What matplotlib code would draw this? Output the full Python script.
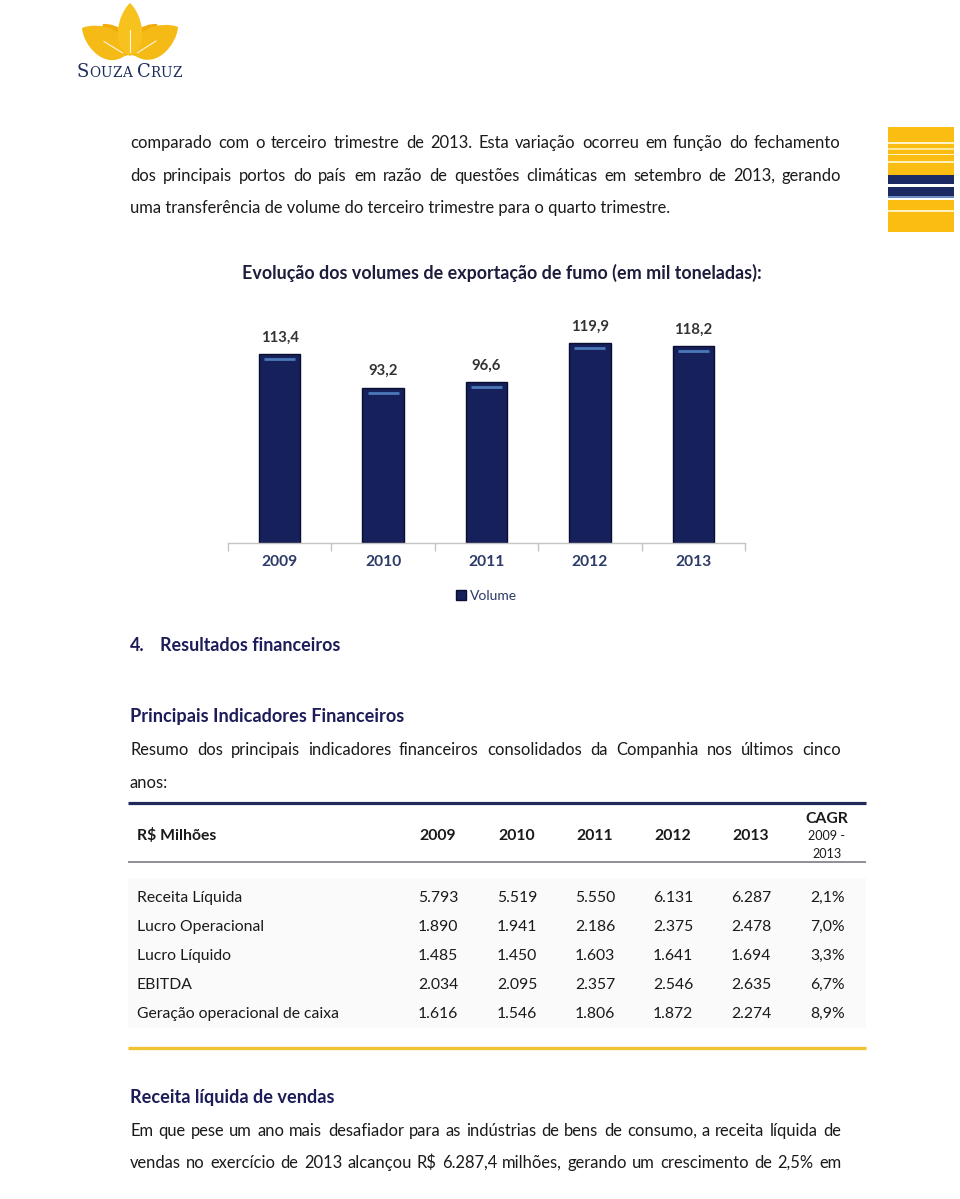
import matplotlib
matplotlib.use('Agg')
import matplotlib.pyplot as plt
from matplotlib.patches import Rectangle, PathPatch
from matplotlib.path import Path
import numpy as np

# ---------------- data ----------------
years = ['2009', '2010', '2011', '2012', '2013']
volumes = [113.4, 93.2, 96.6, 119.9, 118.2]
volume_labels = ['113,4', '93,2', '96,6', '119,9', '118,2']
legend_label = 'Volume'
chart_title = 'Evolução dos volumes de exportação de fumo (em mil toneladas):'

para1 = ['comparado com o terceiro trimestre de 2013. Esta variação ocorreu em função do fechamento',
         'dos principais portos do país em razão de questões climáticas em setembro de 2013, gerando',
         'uma transferência de volume do terceiro trimestre para o quarto trimestre.']
section_num = '4.'
section_title = 'Resultados financeiros'
sub_title = 'Principais Indicadores Financeiros'
para2 = ['Resumo dos principais indicadores financeiros consolidados da Companhia nos últimos cinco',
         'anos:']
table_header = ['R$ Milhões', '2009', '2010', '2011', '2012', '2013']
cagr_header = ['CAGR', '2009 -', '2013']
row_labels = ['Receita Líquida', 'Lucro Operacional', 'Lucro Líquido', 'EBITDA',
              'Geração operacional de caixa']
val_2009 = ['5.793', '1.890', '1.485', '2.034', '1.616']
val_2010 = ['5.519', '1.941', '1.450', '2.095', '1.546']
val_2011 = ['5.550', '2.186', '1.603', '2.357', '1.806']
val_2012 = ['6.131', '2.375', '1.641', '2.546', '1.872']
val_2013 = ['6.287', '2.478', '1.694', '2.635', '2.274']
cagr = ['2,1%', '7,0%', '3,3%', '6,7%', '8,9%']
sub_title2 = 'Receita líquida de vendas'
para3 = ['Em que pese um ano mais desafiador para as indústrias de bens de consumo, a receita líquida de',
         'vendas no exercício de 2013 alcançou R$ 6.287,4 milhões, gerando um crescimento de 2,5% em']
logo_words = [('S', 1), ('OUZA', 0), (' ', 0), ('C', 1), ('RUZ', 0)]

# ---------------- style ----------------
W, H = 960, 1199
FONT = ['Lato', 'DejaVu Sans']
BODY = '#1a1a1a'
NAVY = '#1c1c58'
BAR = '#16205a'

fig = plt.figure(figsize=(W / 100, H / 100), dpi=100)
ax0 = fig.add_axes([0, 0, 1, 1])
ax0.set_xlim(0, W)
ax0.set_ylim(H, 0)
ax0.axis('off')
renderer = fig.canvas.get_renderer()


def text_width(s, fs, weight='normal', family=FONT):
    t = ax0.text(0, 0, s, fontsize=fs, fontweight=weight, family=family)
    w = t.get_window_extent(renderer).width
    t.remove()
    return w


def fit_fs(s, target, weight='normal', family=FONT):
    return 20 * target / text_width(s, 20, weight, family)


def line(s, x0, y, fs, weight='normal', color=BODY, x1=None, ha='left'):
    if x1 is None:
        ax0.text(x0, y, s, fontsize=fs, fontweight=weight, color=color,
                 family=FONT, ha=ha, va='baseline')
        return
    words = s.split(' ')
    widths = [text_width(w, fs, weight) for w in words]
    gap = (x1 - x0 - sum(widths)) / (len(words) - 1)
    x = x0
    for w, wd in zip(words, widths):
        ax0.text(round(x), y, w, fontsize=fs, fontweight=weight, color=color,
                 family=FONT, ha='left', va='baseline')
        x += wd + gap


# ---------------- logo ----------------
def leaf(base, tip, hw, color, z=2, vein=True):
    b = np.array(base, float)
    t = np.array(tip, float)
    d = t - b
    u = d / np.linalg.norm(d)
    n = np.array([-u[1], u[0]])
    c1 = b + 0.18 * d + n * hw * 1.45
    c2 = b + 0.80 * d + n * hw * 0.85
    c3 = b + 0.80 * d - n * hw * 0.85
    c4 = b + 0.18 * d - n * hw * 1.45
    verts = [b, c1, c2, t, c3, c4, b, b]
    codes = [Path.MOVETO, Path.CURVE4, Path.CURVE4, Path.CURVE4,
             Path.CURVE4, Path.CURVE4, Path.CURVE4, Path.CLOSEPOLY]
    ax0.add_patch(PathPatch(Path(verts, codes), facecolor=color, edgecolor='none', zorder=z))
    if vein:
        ax0.plot([b[0] + 0.08 * d[0], b[0] + 0.5 * d[0]], [b[1] + 0.08 * d[1], b[1] + 0.5 * d[1]],
                 color='white', lw=0.8, alpha=0.85, zorder=z + 0.1)


leaf((128, 55), (103, 24), 14, '#f0ac08', 2)
leaf((132, 55), (157, 24), 14, '#f0ac08', 2)
leaf((126, 55), (82, 28), 17, '#f6ba16', 3)
leaf((134, 55), (178, 27), 17, '#f6ba16', 3)
leaf((130, 56), (130, 3), 14, '#f8c21e', 4)

big_fs, small_fs = 13.0, 9.8
lw_list = []
for s, big in logo_words:
    fs = big_fs if big else small_fs
    for ch in s:
        lw_list.append((ch, fs, text_width(ch if ch != ' ' else 'i', fs, 'normal', 'DejaVu Serif')))
track = (105 - sum(w for _, _, w in lw_list)) / (len(lw_list) - 1)
x = 77
for ch, fs, w in lw_list:
    if ch != ' ':
        ax0.text(x, 77, ch, fontsize=fs, family='DejaVu Serif', color='#1f2d5c',
                 ha='left', va='baseline')
    x += w + track

# ---------------- right decoration ----------------
ax0.add_patch(Rectangle((888, 127), 66, 105, facecolor='#fbbd12', edgecolor='none'))
for y0, h, c in [(142, 1.5, '#fff3c8'), (148, 2.0, '#ffe79a'), (154, 1.2, '#fff3c8'),
                 (161, 1.5, '#fff0b8'), (175, 9, '#1b2a62'), (184, 3, '#ffffff'),
                 (187, 9, '#1b2a62'), (196, 2, '#6d8fc8'), (198, 1.5, '#ffffff'),
                 (210, 2, '#fff0c0')]:
    ax0.add_patch(Rectangle((888, y0), 66, h, facecolor=c, edgecolor='none'))

# ---------------- paragraphs ----------------
fs_body = fit_fs(para1[2], 543)
line(para1[0], 130, 148, fs_body, x1=841)
line(para1[1], 130, 181, fs_body, x1=841)
line(para1[2], 130, 213, fs_body)

fs_title = fit_fs(chart_title, 515, 'bold')
line(chart_title, 242, 279, fs_title, 'bold', '#1c1c3c')

fs_sec = fit_fs(section_title, 180, 'bold')
line(section_num, 130, 651, fs_sec, 'bold', NAVY)
line(section_title, 160, 651, fs_sec, 'bold', NAVY)
fs_sub = fit_fs(sub_title, 273, 'bold')
line(sub_title, 130, 722, fs_sub, 'bold', NAVY)
line(para2[0], 130, 755, fs_body, x1=841)
line(para2[1], 130, 788, fs_body)

# ---------------- table ----------------
fs_tab = fit_fs(row_labels[4], 202)
col_x = [438, 517, 595, 673, 751]
cagr_x = 827
ax0.add_patch(Rectangle((128, 878), 738, 150, facecolor='#fafafa', edgecolor='none', zorder=0))
ax0.plot([128, 866], [803, 803], color='#1f2a5a', lw=2.3, solid_capstyle='butt')
ax0.plot([128, 866], [862, 862], color='#6e7080', lw=1.1, solid_capstyle='butt')
line(table_header[0], 137, 840, fs_tab, 'bold')
for cx, h in zip(col_x, table_header[1:]):
    line(h, cx, 840, fs_tab, 'bold', ha='center')
line(cagr_header[0], cagr_x, 823, fs_tab, 'bold', ha='center')
line(cagr_header[1], cagr_x, 840, fs_tab * 0.8, ha='center')
line(cagr_header[2], cagr_x, 858, fs_tab * 0.8, ha='center')
row_y = [902, 931, 960, 989, 1018]
cols = [val_2009, val_2010, val_2011, val_2012, val_2013]
for i, (lab, yy) in enumerate(zip(row_labels, row_y)):
    line(lab, 137, yy, fs_tab)
    for cx, col in zip(col_x, cols):
        line(col[i], cx, yy, fs_tab, ha='center')
    line(cagr[i], 845, yy, fs_tab, ha='right')
ax0.plot([128, 866], [1048, 1048], color='#f1c232', lw=2.4, solid_capstyle='butt')

fs_sub2 = fit_fs(sub_title2, 205, 'bold')
line(sub_title2, 130, 1103, fs_sub2, 'bold', NAVY)
line(para3[0], 130, 1136, fs_body, x1=841)
line(para3[1], 130, 1168, fs_body, x1=841)

# ---------------- bar chart ----------------
ax = fig.add_axes([228 / W, (H - 543) / H, 517 / W, 233 / H])
ax.patch.set_alpha(0)
x = np.arange(len(years))
ax.bar(x, volumes, width=0.40, color=BAR, edgecolor='#0a0e30', linewidth=1.0,
       label=legend_label, zorder=2)
ax.hlines(np.array(volumes) - 3.0, x - 0.15, x + 0.15, color='#4a78b8', lw=2.0, zorder=3)
ax.set_xlim(-0.5, 4.5)
ax.set_ylim(0, 140)
for s in ['top', 'right', 'left']:
    ax.spines[s].set_visible(False)
ax.spines['bottom'].set_color('#c4c4c4')
ax.spines['bottom'].set_linewidth(1.0)
ax.set_yticks([])
fs_year = fit_fs('2009', 36, 'bold')
ax.set_xticks(x, years)
for lab in ax.get_xticklabels():
    lab.set_fontweight('bold')
    lab.set_family(FONT)
ax.tick_params(axis='x', which='major', length=0, pad=9, labelsize=fs_year, labelcolor='#2b3a67')
ax.set_xticks(np.arange(-0.5, len(years), 1), minor=True)
ax.tick_params(axis='x', which='minor', length=6, color='#c4c4c4', width=1.0)
fs_val = fit_fs('113,4', 38, 'bold')
for xi, v, l in zip(x, volumes, volume_labels):
    ax.annotate(l, (xi, v), xytext=(0, 7), textcoords='offset points', ha='center',
                va='bottom', fontweight='bold', color='#333333', fontsize=fs_val, family=FONT)
fs_leg = fit_fs(legend_label, 47)
ax.legend(loc='center', bbox_to_anchor=(0.5, -0.227), frameon=False, handlelength=0.7,
          handleheight=0.7, handletextpad=0.3, prop={'family': FONT, 'size': fs_leg},
          labelcolor='#2b3a67')

fig.savefig('out.png', dpi=100)
